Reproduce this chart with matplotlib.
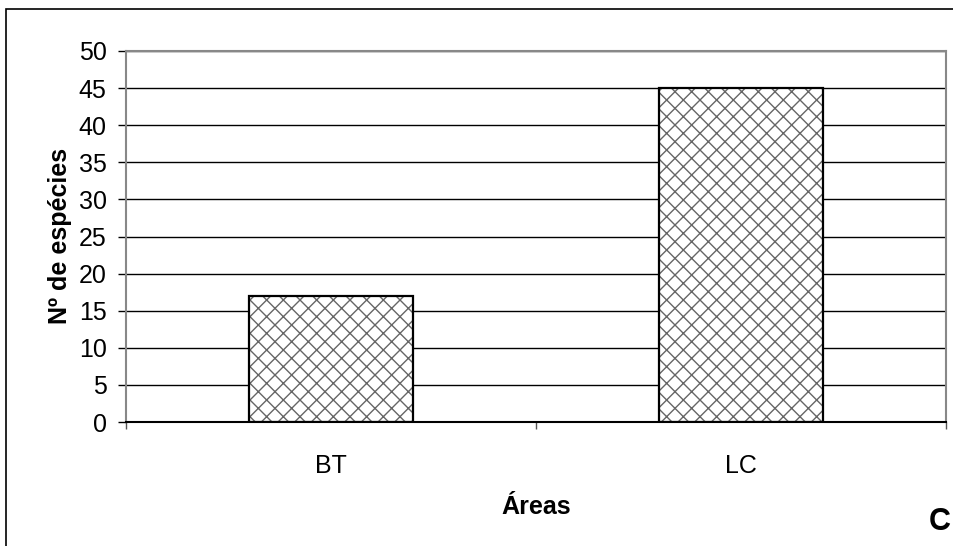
import matplotlib
matplotlib.use('Agg')
from matplotlib import pyplot as plt
from matplotlib.patches import Rectangle

plt.rcParams['font.family'] = ['Liberation Sans', 'DejaVu Sans']
plt.rcParams['hatch.linewidth'] = 1.0

# dados
areas = ['BT', 'LC']
especies = [17, 45]
yticks = [0, 5, 10, 15, 20, 25, 30, 35, 40, 45, 50]

DPI = 100
W, H = 954, 546
fig = plt.figure(figsize=(W / DPI, H / DPI), dpi=DPI)
ax = fig.add_axes([126 / W, 1 - 422 / H, (946 - 126) / W, (422 - 51) / H])

x = range(len(areas))
# hachura cinza e contorno preto separados
ax.bar(x, especies, width=0.4, color='white', edgecolor='#666666', hatch='xx', linewidth=0, zorder=3)
ax.bar(x, especies, width=0.4, fill=False, edgecolor='black', linewidth=1.6, zorder=4)

ax.set_xlim(-0.5, 1.5)
ax.set_ylim(0, 50)
ax.set_yticks(yticks)
ax.set_xticks(list(x))
ax.set_xticklabels(areas)
ax.set_xticks([-0.5, 0.5, 1.5], minor=True)
ax.tick_params(axis='x', which='major', length=0, pad=23, labelsize=18)
ax.tick_params(axis='x', which='minor', length=5, width=1, color='#555555')
ax.tick_params(axis='y', length=6, width=1, labelsize=18, pad=8, color='black')
ax.yaxis.grid(True, color='black', linewidth=1)
ax.set_axisbelow(True)

for s in ['left', 'top', 'right']:
    ax.spines[s].set_color('#888888')
    ax.spines[s].set_linewidth(1.5)
ax.spines['bottom'].set_color('black')
ax.spines['bottom'].set_linewidth(1.5)
ax.spines['bottom'].set_zorder(5)

fig.text(60 / W, 1 - 236 / H, 'Nº de espécies', rotation=90, ha='center', va='center',
         fontsize=18, fontweight='bold')
fig.text(536 / W, 1 - 507 / H, 'Áreas', ha='center', va='center', fontsize=18, fontweight='bold')
fig.text(940 / W, 1 - 522 / H, 'C', ha='center', va='center', fontsize=22, fontweight='bold')

# moldura externa
fig.patches.append(Rectangle((6 / W, -0.1), 1.1, 1 - 9 / H + 0.1, transform=fig.transFigure,
                             fill=False, edgecolor='black', linewidth=1.2))

fig.savefig('out.png', dpi=DPI)
